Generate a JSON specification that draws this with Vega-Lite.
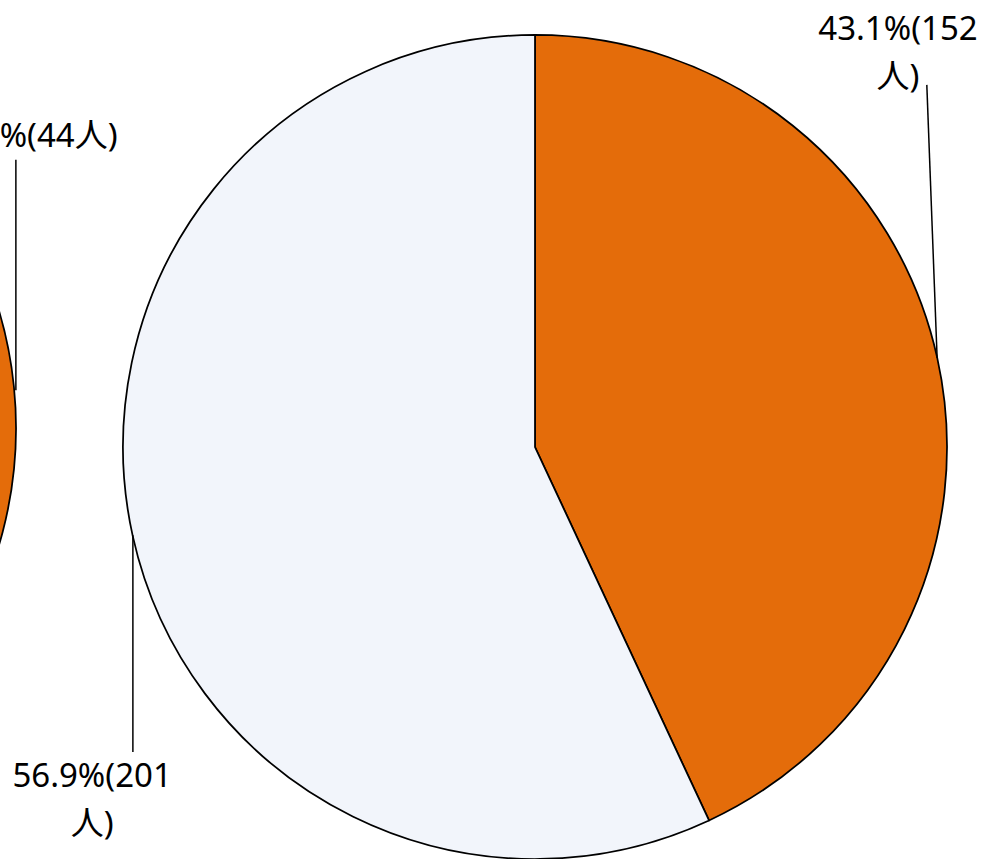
{
  "$schema": "https://vega.github.io/schema/vega-lite/v6.json",
  "width": 984,
  "height": 859,
  "autosize": {"type": "none"},
  "padding": 0,
  "background": "white",
  "config": {"view": {"stroke": null}},
  "datasets": {
    "pies": [
      {"chart": "left", "group": "該当", "n": 44, "label": "46.8%(44人)"},
      {"chart": "left", "group": "非該当", "n": 50, "label": "53.2%(50人)"},
      {"chart": "main", "group": "該当", "n": 152, "label": "43.1%(152\n人)"},
      {"chart": "main", "group": "非該当", "n": 201, "label": "56.9%(201\n人)"}
    ]
  },
  "data": {"name": "pies"},
  "layer": [
    {
      "transform": [{"filter": "datum.chart === 'left'"}],
      "mark": {"type": "arc", "radius": 412, "stroke": "black", "strokeWidth": 1.75},
      "encoding": {
        "x": {"datum": -2.2597, "type": "quantitative", "scale": {"domain": [-1.29854, 1.08981], "nice": false, "zero": false}, "axis": null},
        "y": {"datum": 0.0461, "type": "quantitative", "scale": {"domain": [-1.0, 1.08495], "nice": false, "zero": false}, "axis": null},
        "theta": {"field": "n", "type": "quantitative", "stack": "normalize"},
        "order": {"field": "group", "sort": "ascending"},
        "color": {"field": "group", "type": "nominal", "scale": {"domain": ["該当", "非該当"], "range": ["#E46C0A", "#F2F5FB"]}, "legend": null}
      }
    },
    {
      "transform": [{"filter": "datum.chart === 'main'"}],
      "mark": {"type": "arc", "radius": 412, "stroke": "black", "strokeWidth": 1.75},
      "encoding": {
        "x": {"datum": 0, "type": "quantitative", "scale": {"domain": [-1.29854, 1.08981], "nice": false, "zero": false}, "axis": null},
        "y": {"datum": 0, "type": "quantitative", "scale": {"domain": [-1.0, 1.08495], "nice": false, "zero": false}, "axis": null},
        "theta": {"field": "n", "type": "quantitative", "stack": "normalize"},
        "order": {"field": "group", "sort": "ascending"},
        "color": {"field": "group", "type": "nominal", "scale": {"domain": ["該当", "非該当"], "range": ["#E46C0A", "#F2F5FB"]}, "legend": null}
      }
    },
    {
      "transform": [{"filter": "datum.chart === 'main' && datum.group === '該当'"}],
      "mark": {"type": "rule", "color": "black", "strokeWidth": 1.5},
      "encoding": {
        "x": {"datum": 0.976, "type": "quantitative"},
        "y": {"datum": 0.216, "type": "quantitative"},
        "x2": {"datum": 0.951},
        "y2": {"datum": 0.879}
      }
    },
    {
      "transform": [{"filter": "datum.chart === 'main' && datum.group === '非該当'"}],
      "mark": {"type": "rule", "color": "black", "strokeWidth": 1.5},
      "encoding": {
        "x": {"datum": -0.976, "type": "quantitative"},
        "y": {"datum": -0.214, "type": "quantitative"},
        "x2": {"datum": -0.976},
        "y2": {"datum": -0.74}
      }
    },
    {
      "transform": [{"filter": "datum.chart === 'left' && datum.group === '該当'"}],
      "mark": {"type": "rule", "color": "black", "strokeWidth": 1.5},
      "encoding": {
        "x": {"datum": -1.26, "type": "quantitative"},
        "y": {"datum": 0.138, "type": "quantitative"},
        "x2": {"datum": -1.26},
        "y2": {"datum": 0.697}
      }
    },
    {
      "transform": [{"filter": "datum.chart === 'main' && datum.group === '該当'"}],
      "mark": {"type": "text", "font": "Noto Sans, Noto Sans CJK JP", "fontSize": 33, "lineBreak": "\n", "lineHeight": 48, "align": "center", "baseline": "alphabetic", "color": "black"},
      "encoding": {
        "x": {"datum": 0.881, "type": "quantitative"},
        "y": {"datum": 0.988, "type": "quantitative"},
        "text": {"field": "label", "type": "nominal"}
      }
    },
    {
      "transform": [{"filter": "datum.chart === 'main' && datum.group === '非該当'"}],
      "mark": {"type": "text", "font": "Noto Sans, Noto Sans CJK JP", "fontSize": 33, "lineBreak": "\n", "lineHeight": 48, "align": "center", "baseline": "alphabetic", "color": "black"},
      "encoding": {
        "x": {"datum": -1.075, "type": "quantitative"},
        "y": {"datum": -0.825, "type": "quantitative"},
        "text": {"field": "label", "type": "nominal"}
      }
    },
    {
      "transform": [{"filter": "datum.chart === 'left' && datum.group === '該当'"}],
      "mark": {"type": "text", "font": "Noto Sans, Noto Sans CJK JP", "fontSize": 33, "align": "right", "baseline": "alphabetic", "color": "black"},
      "encoding": {
        "x": {"datum": -1.013, "type": "quantitative"},
        "y": {"datum": 0.728, "type": "quantitative"},
        "text": {"field": "label", "type": "nominal"}
      }
    }
  ]
}
